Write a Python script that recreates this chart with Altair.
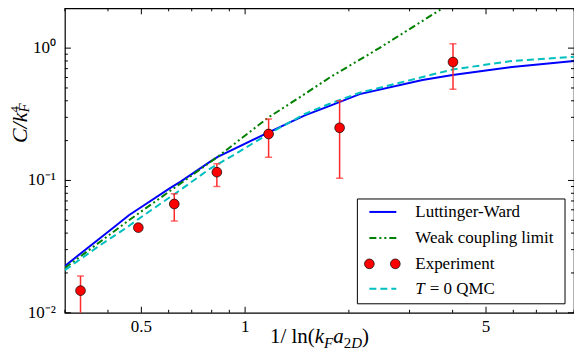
import altair as alt
import pandas as pd

# ---------------- data ----------------
lw_x = [0.3, 0.417, 0.46, 0.5, 0.607, 0.65, 0.79, 0.83, 1.17, 1.49, 1.76, 2.15, 3.27, 4.0, 5.95, 9.0]
lw_y = [0.0226, 0.0445, 0.0546, 0.063, 0.088, 0.098, 0.138, 0.15, 0.231, 0.31, 0.366, 0.449, 0.575, 0.627, 0.72, 0.80]

wc_x = [0.3, 0.46, 0.65, 0.83, 1.17, 1.44, 1.76, 2.45, 3.74]
wc_y = [0.0218, 0.050, 0.095, 0.15, 0.30, 0.425, 0.60, 1.0, 2.0]

qmc_x = [0.3, 0.38, 0.45, 0.49, 0.66, 0.79, 0.92, 1.17, 1.49, 1.76, 2.15, 4.0, 5.95, 9.0]
qmc_y = [0.021, 0.0325, 0.0435, 0.051, 0.0875, 0.1225, 0.154, 0.225, 0.318, 0.38, 0.46, 0.69, 0.80, 0.86]

exp_x = [0.333, 0.49, 0.623, 0.828, 1.17, 1.88, 4.01]
exp_y = [0.0147, 0.044, 0.0664, 0.1155, 0.2245, 0.25, 0.785]
exp_lo = [0.008, 0.0425, 0.0494, 0.090, 0.15, 0.104, 0.49]
exp_hi = [0.019, 0.0455, 0.0795, 0.134, 0.291, 0.40, 1.08]

series_names = ["Luttinger-Ward", "Weak coupling limit", "Experiment", "T = 0 QMC"]

x_major = [0.5, 1, 5]
x_major_labels = ["0.5", "1", "5"]
x_minor = [0.3, 0.4, 0.6, 0.7, 0.8, 0.9, 2, 3, 4, 6, 7, 8, 9]
y_major = [0.01, 0.1, 1]
y_major_labels = ["10⁻²", "10⁻¹", "10⁰"]
y_minor = [0.02, 0.03, 0.04, 0.05, 0.06, 0.07, 0.08, 0.09,
           0.2, 0.3, 0.4, 0.5, 0.6, 0.7, 0.8, 0.9, 2]

# ---------------- layout ----------------
W, H = 510, 305
FONT = "Liberation Serif"
BLUE, GREEN, CYAN, RED, ERR = "#0000ff", "#008000", "#00bfbf", "#ff0000", "#ff2a2a"

xs = alt.Scale(type="log", domain=[0.3, 9], nice=False)
ys = alt.Scale(type="log", domain=[0.01, 2], nice=False)

one = pd.DataFrame({"a": [0]})


def line_layer(xv, yv, color, dash=None):
    df = pd.DataFrame({"x": xv, "y": yv})
    kw = dict(color=color, strokeWidth=2, clip=True)
    if dash:
        kw["strokeDash"] = dash
    return alt.Chart(df).mark_line(**kw).encode(
        x=alt.X("x:Q", scale=xs, axis=None),
        y=alt.Y("y:Q", scale=ys, axis=None),
    )


def xticks(vals, length):
    df = pd.DataFrame({"v": vals})
    base = alt.Chart(df).mark_rule(color="black", strokeWidth=1)
    enc_x = alt.X("v:Q", scale=xs, axis=None)
    return [
        base.encode(x=enc_x, y=alt.value(H), y2=alt.value(H - length)),
        base.encode(x=enc_x, y=alt.value(0), y2=alt.value(length)),
    ]


def yticks(vals, length):
    df = pd.DataFrame({"v": vals})
    base = alt.Chart(df).mark_rule(color="black", strokeWidth=1)
    enc_y = alt.Y("v:Q", scale=ys, axis=None)
    return [
        base.encode(y=enc_y, x=alt.value(0), x2=alt.value(length)),
        base.encode(y=enc_y, x=alt.value(W), x2=alt.value(W - length)),
    ]


def txt(text, x, y, size=17, style="normal", align="left", baseline="middle", angle=None):
    kw = dict(text=text, font=FONT, fontSize=size, fontStyle=style, align=align,
              baseline=baseline, color="black")
    if angle is not None:
        kw["angle"] = angle
    return alt.Chart(one).mark_text(**kw).encode(x=alt.value(x), y=alt.value(y))


layers = []
layers.append(line_layer(lw_x, lw_y, BLUE))
layers.append(line_layer(wc_x, wc_y, GREEN, dash=[7, 3, 2, 3, 2, 3]))
layers.append(line_layer(qmc_x, qmc_y, CYAN, dash=[7, 4]))

exp_df = pd.DataFrame({"x": exp_x, "y": exp_y, "lo": exp_lo, "hi": exp_hi})
ex = alt.X("x:Q", scale=xs, axis=None)
layers.append(alt.Chart(exp_df).mark_rule(color=ERR, strokeWidth=1.5, clip=True).encode(
    x=ex, y=alt.Y("lo:Q", scale=ys, axis=None), y2="hi:Q"))
for col in ["lo", "hi"]:
    layers.append(alt.Chart(exp_df).mark_tick(color=ERR, orient="horizontal", size=7,
                                              thickness=1.5, clip=True).encode(
        x=ex, y=alt.Y(f"{col}:Q", scale=ys, axis=None)))
layers.append(alt.Chart(exp_df).mark_circle(size=95, color=RED, opacity=1, stroke="black",
                                            strokeWidth=0.7).encode(
    x=ex, y=alt.Y("y:Q", scale=ys, axis=None)))

# inward ticks on all four sides
layers += xticks(x_major, 6) + xticks(x_minor, 3) + yticks(y_major, 6) + yticks(y_minor, 3)

# tick labels placed through the scales
xl_df = pd.DataFrame({"v": x_major, "t": x_major_labels})
layers.append(alt.Chart(xl_df).mark_text(font=FONT, fontSize=17, fontStyle="normal", align="center",
                                         baseline="top", color="black").encode(
    x=alt.X("v:Q", scale=xs, axis=None), y=alt.value(H + 6), text="t:N"))
yl_df = pd.DataFrame({"v": y_major, "t": y_major_labels})
layers.append(alt.Chart(yl_df).mark_text(font=FONT, fontSize=17, fontStyle="normal", align="right",
                                         baseline="middle", color="black").encode(
    y=alt.Y("v:Q", scale=ys, axis=None), x=alt.value(-9), text="t:N"))

# ---------------- legend ----------------
LX0, LX1, LY0, LY1 = 293, 501, 191, 296
rows = [204, 230, 256, 281]
layers.append(alt.Chart(one).mark_rect(fill="white", stroke="black", strokeWidth=1).encode(
    x=alt.value(LX0), x2=alt.value(LX1), y=alt.value(LY0), y2=alt.value(LY1)))
layers.append(alt.Chart(one).mark_rule(color=BLUE, strokeWidth=2).encode(
    x=alt.value(305), x2=alt.value(332), y=alt.value(rows[0])))
layers.append(alt.Chart(one).mark_rule(color=GREEN, strokeWidth=2, strokeDash=[7, 3, 2, 3, 2, 3]).encode(
    x=alt.value(305), x2=alt.value(332), y=alt.value(rows[1])))
for cx in (305, 331):
    layers.append(alt.Chart(one).mark_circle(size=95, color=RED, opacity=1, stroke="black",
                                             strokeWidth=0.7).encode(
        x=alt.value(cx), y=alt.value(rows[2])))
layers.append(alt.Chart(one).mark_rule(color=CYAN, strokeWidth=2, strokeDash=[7, 4]).encode(
    x=alt.value(305), x2=alt.value(332), y=alt.value(rows[3])))

TX = 351
for i in range(3):
    layers.append(txt(series_names[i], TX, rows[i]))
qmc_first, qmc_rest = series_names[3].split(" ", 1)
layers.append(txt(qmc_first, TX, rows[3], style="italic"))
layers.append(txt(qmc_rest, TX + 0.556 * 17 + 5, rows[3]))

# ---------------- composite axis titles ----------------
REG = {"1": .5, "/": .278, " ": .25, "l": .278, "n": .5, "(": .333, ")": .333, "2": .5}
ITA = {"k": .444, "F": .611, "a": .5, "D": .722, "C": .667, "/": .278}


def width(s, size, style):
    tab = ITA if style == "italic" else REG
    return sum(tab.get(c, .5) for c in s) * size


xt_parts = [("1/ ln(", 21, "normal", 0), ("k", 21, "italic", 0), ("F", 15, "italic", 5),
            ("a", 21, "italic", 0), ("2", 15, "normal", 5), ("D", 15, "italic", 5),
            (")", 21, "normal", 0)]
total = sum(width(s, sz, st) for s, sz, st, _ in xt_parts)
cur = W / 2 - total / 2
for s, sz, st, sh in xt_parts:
    layers.append(txt(s, cur, 335 + sh, size=sz, style=st, baseline="alphabetic"))
    cur += width(s, sz, st)

# y title, rotated (text runs upward)
ybase_x, ystart = -38, 135
main_w = width("C/k", 22, "italic")
layers.append(txt("C/k", ybase_x, ystart, size=22, style="italic", baseline="alphabetic", angle=270))
layers.append(txt("F", ybase_x + 2, ystart - main_w, size=15, style="italic", baseline="alphabetic", angle=270))
layers.append(txt("4", ybase_x - 8, ystart - main_w, size=13, baseline="alphabetic", angle=270))

chart = alt.layer(*layers).properties(
    width=W, height=H,
    padding={"left": 57, "top": 0, "right": 0, "bottom": 43},
    autosize=alt.AutoSizeParams(type="none"),
).configure_view(stroke="black", strokeWidth=1.2)

chart.save("out.html", embed_options={"renderer": "svg", "actions": False})
